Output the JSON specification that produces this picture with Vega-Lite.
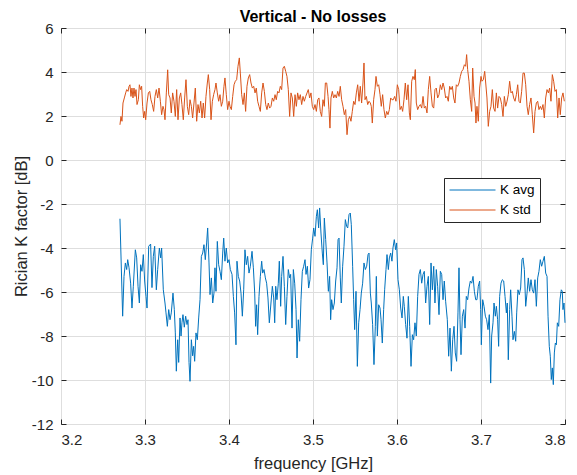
{
  "$schema": "https://vega.github.io/schema/vega-lite/v6.json",
  "width": 504,
  "height": 396,
  "autosize": {"type": "none"},
  "padding": {"left": 61, "top": 28, "right": 12, "bottom": 51},
  "background": "white",
  "config": {
    "font": "Liberation Sans",
    "view": {"stroke": "#262626", "strokeWidth": 1}
  },
  "title": {"text": "Vertical - No losses", "font": "Liberation Sans", "fontSize": 16, "fontWeight": "bold", "color": "#000000", "offset": -4},
  "datasets": {
    "avg": [
      {"f":3.2702,"k":-2.67},{"f":3.2734,"k":-7.1},{"f":3.275,"k":-5.29},{"f":3.2766,"k":-4.68},{"f":3.2782,"k":-4.98},{"f":3.2794,"k":-4.53},{"f":3.281,"k":-4.9},{"f":3.2829,"k":-5.6},{"f":3.2845,"k":-6.73},{"f":3.2861,"k":-5.74},{"f":3.2885,"k":-4.08},{"f":3.2901,"k":-4.45},{"f":3.2917,"k":-5.74},{"f":3.2933,"k":-6.5},{"f":3.2948,"k":-4.76},{"f":3.2964,"k":-5.06},{"f":3.298,"k":-4.3},{"f":3.2996,"k":-5.5},{"f":3.3012,"k":-6.2},{"f":3.3024,"k":-6.73},{"f":3.3044,"k":-3.92},{"f":3.3067,"k":-3.82},{"f":3.3083,"k":-5.8},{"f":3.3099,"k":-4.38},{"f":3.3115,"k":-3.92},{"f":3.3135,"k":-5.9},{"f":3.3151,"k":-4.98},{"f":3.3171,"k":-4.0},{"f":3.3187,"k":-4.45},{"f":3.3198,"k":-4.0},{"f":3.3218,"k":-5.9},{"f":3.3238,"k":-6.5},{"f":3.325,"k":-6.95},{"f":3.3266,"k":-7.56},{"f":3.3282,"k":-6.8},{"f":3.3298,"k":-7.26},{"f":3.3313,"k":-6.95},{"f":3.3333,"k":-6.05},{"f":3.3349,"k":-6.8},{"f":3.3361,"k":-7.86},{"f":3.3373,"k":-9.6},{"f":3.3389,"k":-8.17},{"f":3.3401,"k":-9.2},{"f":3.3417,"k":-7.18},{"f":3.3429,"k":-8.0},{"f":3.344,"k":-7.4},{"f":3.3452,"k":-7.03},{"f":3.3468,"k":-7.6},{"f":3.3484,"k":-7.1},{"f":3.35,"k":-7.48},{"f":3.3512,"k":-7.26},{"f":3.3524,"k":-9.2},{"f":3.3536,"k":-10.06},{"f":3.3552,"k":-8.17},{"f":3.3567,"k":-8.9},{"f":3.3579,"k":-8.47},{"f":3.3591,"k":-9.15},{"f":3.3607,"k":-7.86},{"f":3.3623,"k":-8.17},{"f":3.3639,"k":-7.18},{"f":3.3655,"k":-6.35},{"f":3.3671,"k":-4.38},{"f":3.3687,"k":-4.23},{"f":3.3702,"k":-3.85},{"f":3.3718,"k":-4.53},{"f":3.3734,"k":-3.77},{"f":3.3746,"k":-3.09},{"f":3.3762,"k":-4.68},{"f":3.3774,"k":-6.12},{"f":3.379,"k":-5.36},{"f":3.3806,"k":-6.5},{"f":3.3821,"k":-6.05},{"f":3.3833,"k":-4.9},{"f":3.3845,"k":-5.97},{"f":3.3861,"k":-3.7},{"f":3.3877,"k":-4.76},{"f":3.3893,"k":-5.06},{"f":3.3909,"k":-5.44},{"f":3.3925,"k":-4.23},{"f":3.3937,"k":-3.55},{"f":3.3952,"k":-4.6},{"f":3.3968,"k":-4.0},{"f":3.3984,"k":-4.68},{"f":3.4,"k":-4.53},{"f":3.4016,"k":-4.98},{"f":3.4036,"k":-5.2},{"f":3.4052,"k":-6.2},{"f":3.4067,"k":-6.95},{"f":3.4083,"k":-8.4},{"f":3.4095,"k":-4.6},{"f":3.4111,"k":-5.29},{"f":3.4127,"k":-5.5},{"f":3.4143,"k":-6.05},{"f":3.4159,"k":-7.1},{"f":3.4175,"k":-5.9},{"f":3.419,"k":-4.08},{"f":3.4206,"k":-4.76},{"f":3.4222,"k":-4.38},{"f":3.4238,"k":-5.14},{"f":3.4254,"k":-4.83},{"f":3.4274,"k":-4.15},{"f":3.429,"k":-4.9},{"f":3.4306,"k":-6.05},{"f":3.4317,"k":-7.56},{"f":3.4329,"k":-6.58},{"f":3.4341,"k":-7.94},{"f":3.4357,"k":-6.2},{"f":3.4373,"k":-5.29},{"f":3.4389,"k":-4.6},{"f":3.4401,"k":-5.14},{"f":3.4417,"k":-4.98},{"f":3.4433,"k":-5.36},{"f":3.4448,"k":-5.6},{"f":3.4464,"k":-6.27},{"f":3.448,"k":-7.4},
      {"f":3.4516,"k":-5.74},{"f":3.4532,"k":-6.27},{"f":3.4544,"k":-7.4},{"f":3.4556,"k":-5.74},{"f":3.4571,"k":-6.35},{"f":3.4587,"k":-5.6},{"f":3.4599,"k":-4.6},{"f":3.4615,"k":-6.65},{"f":3.4627,"k":-5.29},{"f":3.4643,"k":-4.38},{"f":3.4659,"k":-5.74},{"f":3.4675,"k":-7.48},{"f":3.469,"k":-6.2},{"f":3.4706,"k":-4.98},{"f":3.4722,"k":-5.36},{"f":3.4734,"k":-5.2},{"f":3.475,"k":-7.64},{"f":3.4766,"k":-4.98},{"f":3.4782,"k":-5.6},{"f":3.4798,"k":-6.8},{"f":3.481,"k":-9.0},{"f":3.4825,"k":-7.26},{"f":3.4841,"k":-8.24},{"f":3.4857,"k":-6.35},{"f":3.4873,"k":-5.06},{"f":3.4889,"k":-4.83},{"f":3.4905,"k":-4.53},{"f":3.4917,"k":-5.2},{"f":3.4933,"k":-4.83},{"f":3.4948,"k":-5.82},{"f":3.4964,"k":-5.44},{"f":3.498,"k":-4.08},{"f":3.4996,"k":-3.55},{"f":3.5008,"k":-3.09},{"f":3.5024,"k":-3.47},{"f":3.504,"k":-2.56},{"f":3.5052,"k":-2.26},{"f":3.5067,"k":-3.09},{"f":3.5079,"k":-2.18},{"f":3.5095,"k":-3.32},{"f":3.5111,"k":-4.23},{"f":3.5123,"k":-4.76},{"f":3.5135,"k":-2.64},{"f":3.5151,"k":-3.62},{"f":3.5167,"k":-4.68},{"f":3.5183,"k":-5.97},{"f":3.5198,"k":-5.29},{"f":3.521,"k":-7.26},{"f":3.5222,"k":-6.35},{"f":3.5238,"k":-6.8},{"f":3.5254,"k":-6.5},{"f":3.527,"k":-5.5},{"f":3.5286,"k":-4.9},{"f":3.5298,"k":-3.62},{"f":3.531,"k":-3.55},{"f":3.5325,"k":-5.36},{"f":3.5337,"k":-6.5},{"f":3.5353,"k":-4.83},{"f":3.5369,"k":-3.92},{"f":3.5385,"k":-2.71},{"f":3.5401,"k":-3.02},{"f":3.5413,"k":-3.09},{"f":3.5429,"k":-2.48},{"f":3.5444,"k":-2.41},{"f":3.5456,"k":-2.94},{"f":3.5472,"k":-4.83},{"f":3.5484,"k":-6.35},{"f":3.5496,"k":-7.71},{"f":3.5512,"k":-5.97},{"f":3.5528,"k":-9.38},{"f":3.5544,"k":-7.4},{"f":3.556,"k":-6.8},{"f":3.5575,"k":-6.05},{"f":3.5591,"k":-5.6},{"f":3.5607,"k":-4.68},{"f":3.5623,"k":-4.98},{"f":3.5639,"k":-4.83},{"f":3.5655,"k":-4.3},{"f":3.5667,"k":-4.23},{"f":3.5683,"k":-6.05},{"f":3.5694,"k":-6.5},{"f":3.571,"k":-7.48},{"f":3.5726,"k":-9.3},{"f":3.5742,"k":-7.56},{"f":3.5754,"k":-5.29},{"f":3.5766,"k":-8.0},{"f":3.5782,"k":-6.58},{"f":3.5798,"k":-6.73},{"f":3.581,"k":-7.26},{"f":3.5825,"k":-8.32},{"f":3.5841,"k":-6.8},{"f":3.5853,"k":-5.9},{"f":3.5869,"k":-4.98},{"f":3.5881,"k":-4.3},{"f":3.5897,"k":-4.98},{"f":3.5909,"k":-4.45},{"f":3.5925,"k":-4.23},{"f":3.594,"k":-4.6},{"f":3.5952,"k":-4.0},{"f":3.5968,"k":-3.62},{"f":3.5984,"k":-4.08},{"f":3.5996,"k":-3.77},{"f":3.6012,"k":-5.44},{"f":3.6028,"k":-5.9},{"f":3.6044,"k":-6.73},{"f":3.606,"k":-7.18},{"f":3.6075,"k":-6.2},{"f":3.6087,"k":-6.65},{"f":3.6103,"k":-7.48},{"f":3.6119,"k":-8.1},{"f":3.6135,"k":-6.2},{"f":3.6151,"k":-7.56},{"f":3.6167,"k":-9.38},{"f":3.6183,"k":-7.94},{"f":3.6198,"k":-8.17},{"f":3.6214,"k":-7.4},{"f":3.623,"k":-8.0},{"f":3.6246,"k":-6.2},{"f":3.6262,"k":-5.2},{"f":3.6278,"k":-4.98},
      {"f":3.6294,"k":-5.6},{"f":3.631,"k":-5.2},{"f":3.6325,"k":-5.06},{"f":3.6341,"k":-6.5},{"f":3.6357,"k":-5.74},{"f":3.6373,"k":-5.29},{"f":3.6389,"k":-7.48},{"f":3.6405,"k":-4.68},{"f":3.6421,"k":-5.9},{"f":3.6437,"k":-4.83},{"f":3.6452,"k":-6.5},{"f":3.6468,"k":-4.98},{"f":3.6484,"k":-5.74},{"f":3.65,"k":-7.03},{"f":3.6516,"k":-5.06},{"f":3.6532,"k":-5.2},{"f":3.6548,"k":-6.35},{"f":3.6563,"k":-5.5},{"f":3.6579,"k":-6.42},{"f":3.6599,"k":-7.26},{"f":3.6615,"k":-8.92},{"f":3.6631,"k":-7.64},{"f":3.6647,"k":-9.6},{"f":3.6663,"k":-8.17},{"f":3.6679,"k":-7.56},{"f":3.6694,"k":-8.77},{"f":3.671,"k":-9.15},{"f":3.6726,"k":-6.95},{"f":3.6738,"k":-4.9},{"f":3.675,"k":-7.26},{"f":3.6762,"k":-8.85},{"f":3.6778,"k":-7.1},{"f":3.6794,"k":-6.8},{"f":3.681,"k":-7.64},{"f":3.6825,"k":-6.2},{"f":3.6841,"k":-6.35},{"f":3.6857,"k":-5.82},{"f":3.6873,"k":-5.5},{"f":3.6889,"k":-5.6},{"f":3.6905,"k":-5.29},{"f":3.6921,"k":-5.97},{"f":3.6937,"k":-6.35},{"f":3.6952,"k":-6.35},{"f":3.6968,"k":-5.74},{"f":3.6984,"k":-5.5},{"f":3.6996,"k":-6.8},{"f":3.7004,"k":-8.4},{"f":3.702,"k":-6.35},{"f":3.7036,"k":-6.65},{"f":3.7052,"k":-7.1},{"f":3.7067,"k":-7.26},{"f":3.7083,"k":-7.71},{"f":3.7099,"k":-7.03},{"f":3.7115,"k":-10.14},{"f":3.7127,"k":-8.0},{"f":3.7143,"k":-7.4},{"f":3.7155,"k":-6.5},{"f":3.7171,"k":-7.1},{"f":3.7183,"k":-6.65},{"f":3.7198,"k":-7.26},{"f":3.721,"k":-8.47},{"f":3.7222,"k":-6.2},{"f":3.7238,"k":-5.6},{"f":3.7254,"k":-5.44},{"f":3.727,"k":-5.5},{"f":3.7286,"k":-6.2},{"f":3.7302,"k":-6.95},{"f":3.7313,"k":-6.5},{"f":3.7325,"k":-9.08},{"f":3.7341,"k":-6.8},{"f":3.7353,"k":-5.9},{"f":3.7369,"k":-7.1},{"f":3.7381,"k":-8.17},{"f":3.7397,"k":-7.79},{"f":3.7413,"k":-8.24},{"f":3.7425,"k":-6.95},{"f":3.744,"k":-5.9},{"f":3.7456,"k":-6.12},{"f":3.7472,"k":-5.82},{"f":3.7488,"k":-4.53},{"f":3.75,"k":-4.45},{"f":3.7516,"k":-4.98},{"f":3.7532,"k":-6.65},{"f":3.7548,"k":-6.05},{"f":3.7563,"k":-5.36},{"f":3.7579,"k":-5.97},{"f":3.7595,"k":-5.44},{"f":3.7611,"k":-5.9},{"f":3.7627,"k":-6.05},{"f":3.7643,"k":-5.44},{"f":3.7659,"k":-6.65},{"f":3.7675,"k":-5.36},{"f":3.769,"k":-5.06},{"f":3.7706,"k":-4.53},{"f":3.7722,"k":-4.83},{"f":3.7738,"k":-4.6},{"f":3.7754,"k":-4.38},{"f":3.777,"k":-5.14},{"f":3.7786,"k":-5.29},{"f":3.7798,"k":-7.1},{"f":3.7813,"k":-8.47},{"f":3.7825,"k":-8.92},{"f":3.7837,"k":-9.98},{"f":3.7849,"k":-9.45},{"f":3.7861,"k":-10.21},{"f":3.7873,"k":-8.77},{"f":3.7885,"k":-8.32},{"f":3.7897,"k":-8.4},{"f":3.7909,"k":-7.4},{"f":3.7925,"k":-7.56},{"f":3.794,"k":-6.35},{"f":3.7956,"k":-5.9},{"f":3.7968,"k":-5.97},{"f":3.7976,"k":-6.8},{"f":3.7988,"k":-6.5},{"f":3.8,"k":-7.4}
    ],
    "std": [
      {"f":3.2702,"k":1.6},{"f":3.2714,"k":1.98},{"f":3.2726,"k":1.76},{"f":3.2738,"k":2.59},{"f":3.2754,"k":2.82},{"f":3.277,"k":3.05},{"f":3.2782,"k":3.2},{"f":3.2798,"k":3.12},{"f":3.281,"k":3.35},{"f":3.2821,"k":3.42},{"f":3.2833,"k":2.89},{"f":3.2845,"k":3.27},{"f":3.2857,"k":2.82},{"f":3.2869,"k":3.27},{"f":3.2881,"k":2.89},{"f":3.2893,"k":3.2},{"f":3.2905,"k":2.52},{"f":3.2921,"k":2.74},{"f":3.2933,"k":3.42},{"f":3.2948,"k":3.2},{"f":3.296,"k":3.35},{"f":3.2972,"k":2.44},{"f":3.2984,"k":1.91},{"f":3.2996,"k":2.21},{"f":3.3008,"k":1.83},{"f":3.3024,"k":2.59},{"f":3.304,"k":3.05},{"f":3.3056,"k":3.12},{"f":3.3071,"k":2.74},{"f":3.3087,"k":2.52},{"f":3.3103,"k":2.21},{"f":3.3119,"k":2.89},{"f":3.3135,"k":3.2},{"f":3.3151,"k":2.82},{"f":3.3167,"k":3.27},{"f":3.3183,"k":2.67},{"f":3.3198,"k":2.06},{"f":3.3214,"k":2.44},{"f":3.3226,"k":2.29},{"f":3.3238,"k":1.83},{"f":3.3254,"k":3.05},{"f":3.327,"k":4.1},{"f":3.3282,"k":2.97},{"f":3.3298,"k":2.82},{"f":3.3313,"k":2.14},{"f":3.3329,"k":3.05},{"f":3.3345,"k":2.67},{"f":3.3361,"k":1.98},{"f":3.3377,"k":3.2},{"f":3.3393,"k":1.83},{"f":3.3409,"k":2.82},{"f":3.3425,"k":3.05},{"f":3.344,"k":2.52},{"f":3.3456,"k":1.83},{"f":3.3472,"k":2.82},{"f":3.3488,"k":3.65},{"f":3.3504,"k":2.44},{"f":3.352,"k":2.06},{"f":3.3536,"k":2.74},{"f":3.3552,"k":2.44},{"f":3.3567,"k":1.91},{"f":3.3583,"k":2.59},{"f":3.3599,"k":3.27},{"f":3.3615,"k":1.76},{"f":3.3631,"k":2.52},{"f":3.3647,"k":2.14},{"f":3.3663,"k":2.67},{"f":3.3679,"k":1.91},{"f":3.3694,"k":2.59},{"f":3.371,"k":1.91},{"f":3.3726,"k":2.89},{"f":3.3742,"k":3.5},{"f":3.3754,"k":3.88},{"f":3.377,"k":3.2},{"f":3.3786,"k":1.83},{"f":3.3802,"k":2.67},{"f":3.3817,"k":2.97},{"f":3.3833,"k":3.2},{"f":3.3845,"k":3.5},{"f":3.3861,"k":3.05},{"f":3.3877,"k":2.67},{"f":3.3893,"k":2.97},{"f":3.3909,"k":2.44},{"f":3.3925,"k":2.67},{"f":3.394,"k":3.35},{"f":3.3952,"k":3.73},{"f":3.3968,"k":2.97},{"f":3.3984,"k":2.29},{"f":3.4,"k":2.67},{"f":3.4012,"k":2.44},{"f":3.4028,"k":2.29},{"f":3.4044,"k":2.89},{"f":3.406,"k":3.42},{"f":3.4075,"k":3.58},{"f":3.4091,"k":3.65},{"f":3.4107,"k":4.26},{"f":3.4123,"k":4.64},{"f":3.4135,"k":3.95},{"f":3.4151,"k":2.97},{"f":3.4167,"k":2.52},{"f":3.4183,"k":3.05},{"f":3.4198,"k":2.21},{"f":3.4214,"k":3.35},{"f":3.423,"k":3.73},{"f":3.4246,"k":3.88},{"f":3.4262,"k":3.5},{"f":3.4278,"k":3.27},{"f":3.4294,"k":3.35},{"f":3.431,"k":3.05},{"f":3.4325,"k":3.27},{"f":3.4341,"k":2.67},{"f":3.4357,"k":2.44},{"f":3.4373,"k":2.21},{"f":3.4389,"k":3.05},{"f":3.4405,"k":3.5},{"f":3.4421,"k":3.12},{"f":3.4437,"k":2.52},{"f":3.4452,"k":2.29},{"f":3.4468,"k":2.59},{"f":3.4484,"k":2.36},{"f":3.45,"k":2.44},{"f":3.4516,"k":2.82},{"f":3.4532,"k":2.67},{"f":3.4548,"k":2.97},{"f":3.4563,"k":2.74},{"f":3.4579,"k":3.12},{"f":3.4595,"k":3.05},{"f":3.4611,"k":3.35},{"f":3.4627,"k":3.2},{"f":3.4643,"k":4.18},{"f":3.4659,"k":4.26},{"f":3.4675,"k":4.03},{"f":3.469,"k":3.8},{"f":3.4706,"k":3.2},{"f":3.4722,"k":1.98},{"f":3.4738,"k":3.05},{"f":3.4754,"k":2.82},{"f":3.477,"k":1.98},{"f":3.4786,"k":2.97},{"f":3.4802,"k":2.44},{"f":3.4817,"k":3.05},{"f":3.4833,"k":2.74},{"f":3.4849,"k":2.97},{"f":3.4865,"k":2.52},{"f":3.4881,"k":2.89},{"f":3.4897,"k":2.67},{"f":3.4913,"k":2.89},{"f":3.4929,"k":3.05},{"f":3.4944,"k":3.2},{"f":3.496,"k":2.82},{"f":3.4976,"k":3.05},{"f":3.4992,"k":2.44},{"f":3.5008,"k":2.29},{"f":3.5024,"k":2.52},{"f":3.504,"k":2.21},{"f":3.5056,"k":2.74},{"f":3.5071,"k":2.82},{"f":3.5087,"k":2.21},{"f":3.5103,"k":1.98},{"f":3.5119,"k":2.74},{"f":3.5135,"k":2.44},{"f":3.5147,"k":3.5},{"f":3.5163,"k":3.5},{"f":3.5179,"k":2.89},{"f":3.519,"k":2.29},{"f":3.5202,"k":1.45},{"f":3.5214,"k":2.82},{"f":3.523,"k":3.12},{"f":3.5246,"k":2.82},{"f":3.5262,"k":2.97},{"f":3.5278,"k":2.82},{"f":3.5294,"k":3.12},{"f":3.531,"k":2.89},
      {"f":3.5325,"k":3.35},{"f":3.5341,"k":2.74},{"f":3.5357,"k":2.44},{"f":3.5373,"k":2.06},{"f":3.5389,"k":2.29},{"f":3.5405,"k":1.15},{"f":3.5421,"k":1.83},{"f":3.5437,"k":1.98},{"f":3.5452,"k":1.76},{"f":3.5468,"k":2.21},{"f":3.5484,"k":2.67},{"f":3.55,"k":2.52},{"f":3.5516,"k":3.05},{"f":3.5532,"k":3.42},{"f":3.5548,"k":2.67},{"f":3.5563,"k":3.35},{"f":3.5579,"k":2.59},{"f":3.5595,"k":3.5},{"f":3.5607,"k":4.41},{"f":3.5619,"k":2.74},{"f":3.5635,"k":2.89},{"f":3.5651,"k":2.52},{"f":3.5667,"k":2.67},{"f":3.5683,"k":2.59},{"f":3.5694,"k":2.44},{"f":3.5706,"k":1.68},{"f":3.5722,"k":2.74},{"f":3.5738,"k":3.2},{"f":3.575,"k":3.8},{"f":3.5766,"k":3.35},{"f":3.5782,"k":3.42},{"f":3.5798,"k":2.97},{"f":3.5813,"k":2.44},{"f":3.5829,"k":2.97},{"f":3.5845,"k":2.29},{"f":3.5861,"k":1.91},{"f":3.5877,"k":2.21},{"f":3.5893,"k":2.06},{"f":3.5909,"k":2.29},{"f":3.5925,"k":2.82},{"f":3.594,"k":2.74},{"f":3.5956,"k":2.74},{"f":3.5972,"k":2.89},{"f":3.5988,"k":2.67},{"f":3.6004,"k":3.42},{"f":3.602,"k":3.2},{"f":3.6036,"k":2.29},{"f":3.6052,"k":2.44},{"f":3.6067,"k":2.21},{"f":3.6083,"k":2.74},{"f":3.6099,"k":3.5},{"f":3.6115,"k":2.74},{"f":3.6131,"k":3.42},{"f":3.6147,"k":2.14},{"f":3.6159,"k":1.83},{"f":3.6175,"k":3.58},{"f":3.619,"k":3.8},{"f":3.6206,"k":3.65},{"f":3.6218,"k":4.11},{"f":3.623,"k":2.59},{"f":3.6246,"k":2.29},{"f":3.6262,"k":2.44},{"f":3.6278,"k":2.52},{"f":3.6294,"k":2.36},{"f":3.631,"k":2.89},{"f":3.6325,"k":2.36},{"f":3.6341,"k":2.44},{"f":3.6357,"k":2.14},{"f":3.6373,"k":3.2},{"f":3.6389,"k":3.8},{"f":3.6405,"k":3.05},{"f":3.6421,"k":2.44},{"f":3.6437,"k":2.36},{"f":3.6452,"k":3.2},{"f":3.6468,"k":3.27},{"f":3.6484,"k":2.82},{"f":3.65,"k":2.97},{"f":3.6516,"k":3.42},{"f":3.6532,"k":3.2},{"f":3.6548,"k":3.5},{"f":3.6563,"k":3.27},{"f":3.6579,"k":2.82},{"f":3.6595,"k":2.89},{"f":3.6611,"k":2.67},{"f":3.6627,"k":3.35},{"f":3.6643,"k":3.2},{"f":3.6659,"k":3.35},{"f":3.6675,"k":2.82},{"f":3.669,"k":2.59},{"f":3.6706,"k":3.42},{"f":3.6722,"k":3.35},{"f":3.6738,"k":3.5},{"f":3.6754,"k":3.8},{"f":3.677,"k":4.03},{"f":3.6786,"k":4.11},{"f":3.6802,"k":4.33},{"f":3.6817,"k":4.26},{"f":3.6829,"k":4.79},{"f":3.6841,"k":4.11},{"f":3.6857,"k":3.58},{"f":3.6873,"k":2.74},{"f":3.6889,"k":2.21},{"f":3.6901,"k":4.18},{"f":3.6917,"k":2.89},{"f":3.6929,"k":2.59},{"f":3.694,"k":1.68},{"f":3.6952,"k":2.44},{"f":3.6968,"k":1.76},{"f":3.6984,"k":3.27},{"f":3.7,"k":3.8},{"f":3.7012,"k":3.58},{"f":3.7028,"k":3.65},{"f":3.7044,"k":4.03},{"f":3.7056,"k":3.5},{"f":3.7071,"k":2.82},{"f":3.7087,"k":1.53},{"f":3.7103,"k":2.21},{"f":3.7119,"k":2.44},{"f":3.7135,"k":3.2},{"f":3.7151,"k":2.36},{"f":3.7167,"k":2.21},{"f":3.7183,"k":3.05},{"f":3.7198,"k":2.36},{"f":3.7214,"k":2.89},{"f":3.723,"k":2.82},{"f":3.7246,"k":2.52},{"f":3.7262,"k":1.98},{"f":3.7278,"k":2.89},{"f":3.7294,"k":2.44},{"f":3.731,"k":2.67},{"f":3.7325,"k":2.97},{"f":3.7341,"k":3.58},{"f":3.7357,"k":3.05},{"f":3.7373,"k":3.12},{"f":3.7389,"k":2.82},{"f":3.7405,"k":2.67},{"f":3.7421,"k":2.97},{"f":3.7437,"k":3.42},{"f":3.7452,"k":2.67},{"f":3.7468,"k":2.59},{"f":3.7484,"k":3.12},{"f":3.75,"k":3.95},{"f":3.7516,"k":3.95},{"f":3.7532,"k":3.42},{"f":3.7548,"k":2.44},{"f":3.7563,"k":2.06},{"f":3.7579,"k":2.52},{"f":3.7595,"k":2.82},{"f":3.7611,"k":2.06},{"f":3.7627,"k":1.23},{"f":3.7643,"k":2.21},{"f":3.7659,"k":2.59},{"f":3.7675,"k":2.67},{"f":3.769,"k":2.29},{"f":3.7706,"k":2.44},{"f":3.7722,"k":2.29},{"f":3.7738,"k":2.52},{"f":3.7754,"k":1.91},{"f":3.777,"k":2.82},{"f":3.7786,"k":3.2},{"f":3.7802,"k":3.05},{"f":3.7817,"k":3.27},{"f":3.7833,"k":2.67},{"f":3.7849,"k":3.88},{"f":3.7865,"k":3.58},{"f":3.7881,"k":3.12},{"f":3.7897,"k":3.2},{"f":3.7913,"k":1.91},{"f":3.7929,"k":2.82},{"f":3.7944,"k":2.06},{"f":3.796,"k":2.82},{"f":3.7976,"k":3.05},{"f":3.7992,"k":2.67}
    ]
  },
  "layer": [
    {
      "data": {"name": "avg"},
      "mark": {"type": "line", "strokeWidth": 1, "interpolate": "linear"},
      "encoding": {
        "x": {"field": "f", "type": "quantitative",
          "scale": {"domain": [3.2, 3.8], "nice": false, "zero": false},
          "axis": {"title": "frequency [GHz]", "orient": "bottom", "values": [3.2,3.3,3.4,3.5,3.6,3.7,3.8], "format": ".1f",
            "grid": true, "gridColor": "#dedede", "gridWidth": 1, "domain": false,
            "tickColor": "#262626", "tickSize": -5, "labelFontSize": 15, "labelColor": "#262626", "labelPadding": 13, "labelFont": "Liberation Sans",
            "titleFontSize": 16.5, "titleFontWeight": "normal", "titleColor": "#262626", "titleFont": "Liberation Sans", "titlePadding": 8}},
        "y": {"field": "k", "type": "quantitative",
          "scale": {"domain": [-12, 6], "nice": false, "zero": false},
          "axis": {"title": "Rician K factor [dB]", "orient": "left", "values": [-12,-10,-8,-6,-4,-2,0,2,4,6],
            "labelExpr": "toString(datum.value)",
            "grid": true, "gridColor": "#dedede", "gridWidth": 1, "domain": false,
            "tickColor": "#262626", "tickSize": -5, "labelFontSize": 15, "labelColor": "#262626", "labelPadding": 13, "labelFont": "Liberation Sans",
            "titleFontSize": 16.5, "titleFontWeight": "normal", "titleColor": "#262626", "titleFont": "Liberation Sans", "titlePadding": 2}},
        "color": {"datum": "K avg", "type": "nominal",
          "scale": {"domain": ["K avg", "K std"], "range": ["#0072BD", "#D95319"]},
          "legend": {"title": null, "orient": "none", "legendX": 383, "legendY": 150,
            "strokeColor": "#262626", "fillColor": "white", "padding": 5,
            "symbolType": "stroke", "symbolSize": 2116, "symbolStrokeWidth": 1, "clipHeight": 14,
            "labelFontSize": 13.5, "labelFont": "Liberation Sans", "labelColor": "#000000", "labelOffset": 4, "rowPadding": 6}}
      }
    },
    {
      "data": {"name": "std"},
      "mark": {"type": "line", "strokeWidth": 1, "interpolate": "linear"},
      "encoding": {
        "x": {"field": "f", "type": "quantitative",
          "scale": {"domain": [3.2, 3.8], "nice": false, "zero": false},
          "axis": {"title": null, "orient": "top", "values": [3.2,3.3,3.4,3.5,3.6,3.7,3.8], "labels": false, "grid": false, "domain": false,
            "tickColor": "#262626", "tickSize": -5}},
        "y": {"field": "k", "type": "quantitative",
          "scale": {"domain": [-12, 6], "nice": false, "zero": false},
          "axis": {"title": null, "orient": "right", "values": [-12,-10,-8,-6,-4,-2,0,2,4,6], "labels": false, "grid": false, "domain": false,
            "tickColor": "#262626", "tickSize": -5}},
        "color": {"datum": "K std", "type": "nominal"}
      }
    }
  ],
  "resolve": {"axis": {"x": "independent", "y": "independent"}}
}
